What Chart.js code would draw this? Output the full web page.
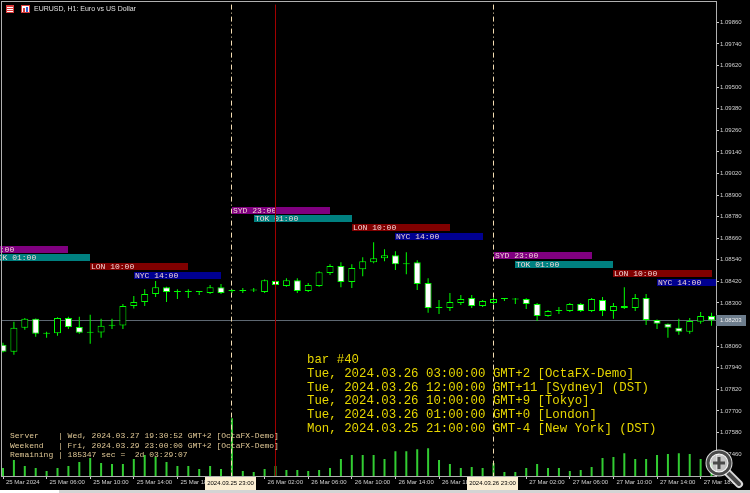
<!DOCTYPE html>
<html>
<head>
<meta charset="utf-8">
<script src="https://cdn.jsdelivr.net/npm/chart.js@4.4.1/dist/chart.umd.min.js"></script>
<style>
html, body { margin: 0; padding: 0; background: #000; overflow: hidden; }
canvas { display: block; }
</style>
</head>
<body>
<canvas id="myChart" width="750" height="493"></canvas>
<script>
// EURUSD H1, bar 0 = 25 Mar 02:00 ... bar 65 = 27 Mar 19:00 (server time)
var opens = [1.08068,1.08029,1.08162,1.08212,1.08129,1.08131,1.08217,1.08167,1.08134,1.08136,
             1.08173,1.08175,1.08283,1.08306,1.08350,1.08388,1.08361,1.08361,1.08363,1.08355,
             1.08388,1.08366,1.08366,1.08370,1.08361,1.08422,1.08394,1.08427,1.08366,1.08394,
             1.08466,1.08505,1.08416,1.08488,1.08527,1.08549,1.08565,1.08516,1.08527,1.08411,
             1.08272,1.08272,1.08300,1.08328,1.08283,1.08300,1.08322,1.08322,1.08322,1.08294,
             1.08228,1.08256,1.08256,1.08294,1.08256,1.08317,1.08256,1.08283,1.08272,1.08328,
             1.08206,1.08184,1.08162,1.08140,1.08195,1.08228];
var highs = [1.08079,1.08195,1.08217,1.08214,1.08140,1.08220,1.08223,1.08223,1.08234,1.08212,
             1.08212,1.08294,1.08339,1.08377,1.08422,1.08390,1.08377,1.08377,1.08366,1.08400,
             1.08405,1.08377,1.08383,1.08383,1.08430,1.08455,1.08438,1.08438,1.08411,1.08477,
             1.08516,1.08527,1.08516,1.08554,1.08637,1.08599,1.08588,1.08582,1.08538,1.08438,
             1.08317,1.08355,1.08344,1.08344,1.08317,1.08328,1.08328,1.08328,1.08326,1.08300,
             1.08261,1.08278,1.08300,1.08300,1.08328,1.08333,1.08300,1.08388,1.08350,1.08350,
             1.08208,1.08186,1.08212,1.08217,1.08250,1.08245];
var lows = [1.08024,1.08012,1.08151,1.08112,1.08106,1.08118,1.08156,1.08129,1.08073,1.08107,
            1.08156,1.08156,1.08270,1.08283,1.08333,1.08306,1.08322,1.08328,1.08344,1.08350,
            1.08350,1.08355,1.08355,1.08361,1.08355,1.08383,1.08390,1.08355,1.08361,1.08390,
            1.08455,1.08388,1.08383,1.08449,1.08521,1.08532,1.08483,1.08460,1.08372,1.08245,
            1.08239,1.08256,1.08289,1.08272,1.08278,1.08294,1.08311,1.08294,1.08267,1.08200,
            1.08223,1.08239,1.08250,1.08250,1.08250,1.08228,1.08212,1.08267,1.08256,1.08178,
            1.08156,1.08107,1.08123,1.08129,1.08184,1.08173];
var closes = [1.08029,1.08162,1.08212,1.08129,1.08131,1.08217,1.08167,1.08134,1.08136,1.08173,
              1.08175,1.08283,1.08306,1.08350,1.08388,1.08361,1.08361,1.08363,1.08361,1.08388,
              1.08355,1.08366,1.08368,1.08372,1.08427,1.08400,1.08427,1.08366,1.08400,1.08471,
              1.08505,1.08416,1.08494,1.08532,1.08549,1.08565,1.08516,1.08521,1.08405,1.08272,
              1.08278,1.08306,1.08322,1.08283,1.08311,1.08322,1.08324,1.08320,1.08294,1.08228,
              1.08256,1.08258,1.08294,1.08256,1.08322,1.08256,1.08283,1.08272,1.08328,1.08206,
              1.08184,1.08162,1.08140,1.08200,1.08228,1.08203];
var volumes = [800,1600,1000,800,500,800,1000,1400,1800,1300,
               1200,1200,1700,2100,1900,1400,1000,1000,700,1000,
               700,5800,500,400,700,1000,600,600,500,600,
               800,1700,2100,2100,2100,1700,2500,2500,2700,2800,
               1600,1200,800,900,800,1300,400,400,800,1200,
               800,800,500,600,900,1800,1900,2300,1700,1700,
               2100,2200,2300,2200,1700,1300];

var priceTicks = [1.09860,1.09740,1.09620,1.09500,1.09380,1.09260,1.09140,1.09020,1.08900,1.08780,
                  1.08660,1.08540,1.08420,1.08300,1.08180,1.08060,1.07940,1.07820,1.07700,1.07580,1.07460];
var timeTicks = [0,4,8,12,16,24,28,32,36,40,48,52,56,60,64];
var timeLabels = ["25 Mar 2024","25 Mar 06:00","25 Mar 10:00","25 Mar 14:00","25 Mar 18:00",
                  "26 Mar 02:00","26 Mar 06:00","26 Mar 10:00","26 Mar 14:00","26 Mar 18:00",
                  "27 Mar 02:00","27 Mar 06:00","27 Mar 10:00","27 Mar 14:00","27 Mar 18:00"];
var dayBars = [21, 45];
var dayLabels = ["2024.03.25 23:00", "2024.03.26 23:00"];
var selectedBar = 25;
var lastPrice = 1.08203;

var sessionNames = ["SYD 23:00", "TOK 01:00", "LON 10:00", "NYC 14:00"];
var sessionStart = [[-3, -1, 8, 12], [21, 23, 32, 36], [45, 47, 56, 60]];
var sessionEnd = [[6, 8, 17, 20], [30, 32, 41, 44], [54, 56, 65, 68]];
var sessionLevel = [[1.08615, 1.08571, 1.08521, 1.08471],
                    [1.08836, 1.08787, 1.08737, 1.08687],
                    [1.08582, 1.08532, 1.08483, 1.08433]];

var barInfo = ["bar #40",
               "Tue, 2024.03.26 03:00:00 GMT+2 [OctaFX-Demo]",
               "Tue, 2024.03.26 12:00:00 GMT+11 [Sydney] (DST)",
               "Tue, 2024.03.26 10:00:00 GMT+9 [Tokyo]",
               "Tue, 2024.03.26 01:00:00 GMT+0 [London]",
               "Mon, 2024.03.25 21:00:00 GMT-4 [New York] (DST)"];
var serverInfo = ["Server    | Wed, 2024.03.27 19:30:52 GMT+2 [OctaFX-Demo]",
                  "Weekend   | Fri, 2024.03.29 23:00:00 GMT+2 [OctaFX-Demo]",
                  "Remaining | 185347 sec =  2d 03:29:07"];
var title = "EURUSD, H1: Euro vs US Dollar";

var sessionColors = ["#800080", "#008080", "#800000", "#000090"];
var lime = "#00ff00";

var bodyData = opens.map(function (o, i) { return { x: i, y: [o, closes[i]] }; });
var wickData = lows.map(function (l, i) { return { x: i, y: [l, highs[i]] }; });
var volData = volumes.map(function (v, i) { return { x: i, y: v }; });

function bodyColor(ctx) {
    var r = ctx.raw;
    if (!r) return "#000";
    var o = r.y[0], c = r.y[1];
    if (Math.abs(c - o) < 0.00007) return lime;
    return c > o ? "#000000" : "#ffffff";
}

var overlay = {
    id: "overlay",
    beforeDraw: function (chart) {
        var c = chart.ctx;
        c.save();
        c.fillStyle = "#000";
        c.fillRect(0, 0, chart.width, chart.height);
        c.restore();
    },
    beforeDatasetsDraw: function (chart) {
        var c = chart.ctx, x = chart.scales.x, y = chart.scales.y, a = chart.chartArea;
        c.save();
        c.beginPath();
        c.rect(0, 0, a.right, a.bottom);
        c.clip();
        c.font = '8px "Liberation Mono"';
        c.textBaseline = "middle";
        for (var d = 0; d < sessionStart.length; d++) {
            for (var k = 0; k < sessionNames.length; k++) {
                var x0 = Math.round(x.getPixelForValue(sessionStart[d][k]));
                var x1 = Math.round(x.getPixelForValue(sessionEnd[d][k]));
                var top = Math.round(y.getPixelForValue(sessionLevel[d][k]));
                c.fillStyle = sessionColors[k];
                c.fillRect(x0, top, x1 - x0, 7);
                c.fillStyle = "#f2d6d6";
                c.fillText(sessionNames[k], x0 + 1, top + 4);
            }
        }
        var py = Math.round(y.getPixelForValue(lastPrice)) + 0.5;
        c.strokeStyle = "#5d6771";
        c.lineWidth = 1;
        c.beginPath();
        c.moveTo(a.left, py);
        c.lineTo(a.right, py);
        c.stroke();
        c.restore();
    },
    afterDatasetsDraw: function (chart) {
        var c = chart.ctx, x = chart.scales.x, a = chart.chartArea;
        c.save();
        c.lineWidth = 1;
        c.strokeStyle = "#f5deb3";
        c.setLineDash([5, 3, 1, 3]);
        dayBars.forEach(function (b) {
            var px = Math.round(x.getPixelForValue(b)) - 0.5;
            c.beginPath();
            c.moveTo(px, a.top);
            c.lineTo(px, a.bottom);
            c.stroke();
        });
        c.setLineDash([]);
        c.strokeStyle = "#a00000";
        var sx = Math.round(x.getPixelForValue(selectedBar)) - 0.5;
        c.beginPath();
        c.moveTo(sx, a.top);
        c.lineTo(sx, a.bottom);
        c.stroke();
        c.restore();
    },
    afterDraw: function (chart) {
        var c = chart.ctx, x = chart.scales.x, y = chart.scales.y, a = chart.chartArea;
        c.save();
        // frame
        c.strokeStyle = "#b0b0b0";
        c.lineWidth = 1;
        c.strokeRect(1.5, 1.5, a.right - 1, a.bottom - 1);

        // last price label
        var py = Math.round(y.getPixelForValue(lastPrice));
        c.fillStyle = "#6d7d8d";
        c.fillRect(a.right, py - 5, 30, 11);
        c.fillStyle = "#f0f0f0";
        c.font = '6px "Liberation Sans"';
        c.textBaseline = "middle";
        c.textAlign = "left";
        c.fillText(lastPrice.toFixed(5), a.right + 4, py + 0.5);

        // highlighted time labels
        dayBars.forEach(function (b, i) {
            var px = x.getPixelForValue(b);
            c.fillStyle = "#fbeed2";
            c.fillRect(Math.round(px) - 27, a.bottom + 1, 51, 13);
            c.fillStyle = "#000";
            c.textAlign = "center";
            c.fillText(dayLabels[i], Math.round(px) - 1.5, a.bottom + 7.5);
        });

        // title
        c.textAlign = "left";
        c.font = '7px "Liberation Sans"';
        c.fillStyle = "#e0e0e0";
        c.fillText(title, 34, 9);
        c.fillStyle = "#d83c3c";
        c.fillRect(6, 5, 8, 8);
        c.fillStyle = "#ffffff";
        c.fillRect(7, 7, 6, 1);
        c.fillRect(7, 9, 6, 1);
        c.fillRect(7, 11, 6, 1);
        c.fillStyle = "#d83c3c";
        c.fillRect(21, 5, 9, 8);
        c.fillStyle = "#ffffff";
        c.fillRect(22, 6, 7, 6);
        c.fillStyle = "#2a5cd0";
        c.fillRect(26, 7, 2, 5);
        c.fillStyle = "#d83c3c";
        c.fillRect(23, 8, 2, 4);

        // bar info block
        c.font = '12.4px "Liberation Mono"';
        c.fillStyle = "#e6d600";
        barInfo.forEach(function (t, i) {
            c.fillText(t, 307, 360 + i * 13.7);
        });

        // server info
        c.font = '8px "Liberation Mono"';
        c.fillStyle = "#e0c896";
        serverInfo.forEach(function (t, i) {
            c.fillText(t, 10, 436 + i * 9.5);
        });

        // bottom strip
        c.fillStyle = "#d4d4d4";
        c.fillRect(0, 490, chart.width, 3);
        c.fillStyle = "#ffffff";
        c.fillRect(0, 490, 59, 3);

        // magnifier overlay
        c.lineCap = "round";
        c.strokeStyle = "rgba(255,255,255,0.85)";
        c.lineWidth = 8;
        c.beginPath(); c.moveTo(728, 473); c.lineTo(739, 484); c.stroke();
        c.strokeStyle = "#4a4a4a";
        c.lineWidth = 4;
        c.beginPath(); c.moveTo(728, 473); c.lineTo(739, 484); c.stroke();
        c.beginPath();
        c.arc(719, 463, 11, 0, Math.PI * 2);
        c.fillStyle = "rgba(230,230,230,0.85)";
        c.fill();
        c.lineWidth = 5;
        c.strokeStyle = "rgba(255,255,255,0.85)";
        c.stroke();
        c.lineWidth = 3;
        c.strokeStyle = "#4a4a4a";
        c.stroke();
        c.fillStyle = "#4a4a4a";
        c.fillRect(713, 461.5, 12, 3);
        c.fillRect(717.5, 457, 3, 12);
        c.restore();
    }
};

new Chart("myChart", {
    type: "bar",
    data: {
        datasets: [
            {
                data: bodyData, yAxisID: "y", order: 0, grouped: false,
                barThickness: 7, minBarLength: 1, borderSkipped: false,
                borderWidth: 1, borderColor: lime, backgroundColor: bodyColor, inflateAmount: 0
            },
            {
                data: wickData, yAxisID: "y", order: 1, grouped: false,
                barThickness: 1, borderWidth: 0, backgroundColor: lime, inflateAmount: 0
            },
            {
                data: volData, yAxisID: "yv", order: 2, grouped: false,
                barThickness: 2, borderWidth: 0, backgroundColor: "#32cd32", inflateAmount: 0
            }
        ]
    },
    options: {
        responsive: false,
        animation: false,
        devicePixelRatio: 1,
        layout: { padding: { left: 2, top: 2, right: 0, bottom: 0 } },
        plugins: { legend: { display: false }, tooltip: { enabled: false } },
        scales: {
            x: {
                type: "linear", min: -0.092, max: 65.41, offset: false,
                afterBuildTicks: function (s) { s.ticks = timeTicks.map(function (v) { return { value: v }; }); },
                afterFit: function (s) { s.height = 17; },
                grid: { offset: false, drawOnChartArea: false, tickLength: 3, color: "#c8c8c8" },
                border: { color: "#d8d8d8" },
                ticks: {
                    autoSkip: false, maxRotation: 0, align: "start", labelOffset: 3, padding: 0,
                    color: "#d0d0d0", font: { family: "Liberation Sans", size: 6 },
                    callback: function (v, i) { return timeLabels[i]; }
                }
            },
            y: {
                position: "right", min: 1.07338, max: 1.09959,
                afterBuildTicks: function (s) { s.ticks = priceTicks.map(function (v) { return { value: v }; }); },
                afterFit: function (s) { s.width = 34; },
                grid: { drawOnChartArea: false, tickLength: 3, color: "#d0d0d0" },
                border: { color: "#e0e0e0" },
                ticks: {
                    padding: 1, color: "#d0d0d0", font: { family: "Liberation Sans", size: 6 },
                    callback: function (v) { return v.toFixed(5); }
                }
            },
            yv: { display: false, min: 0, max: 47400 }
        }
    },
    plugins: [overlay]
});
</script>
</body>
</html>
